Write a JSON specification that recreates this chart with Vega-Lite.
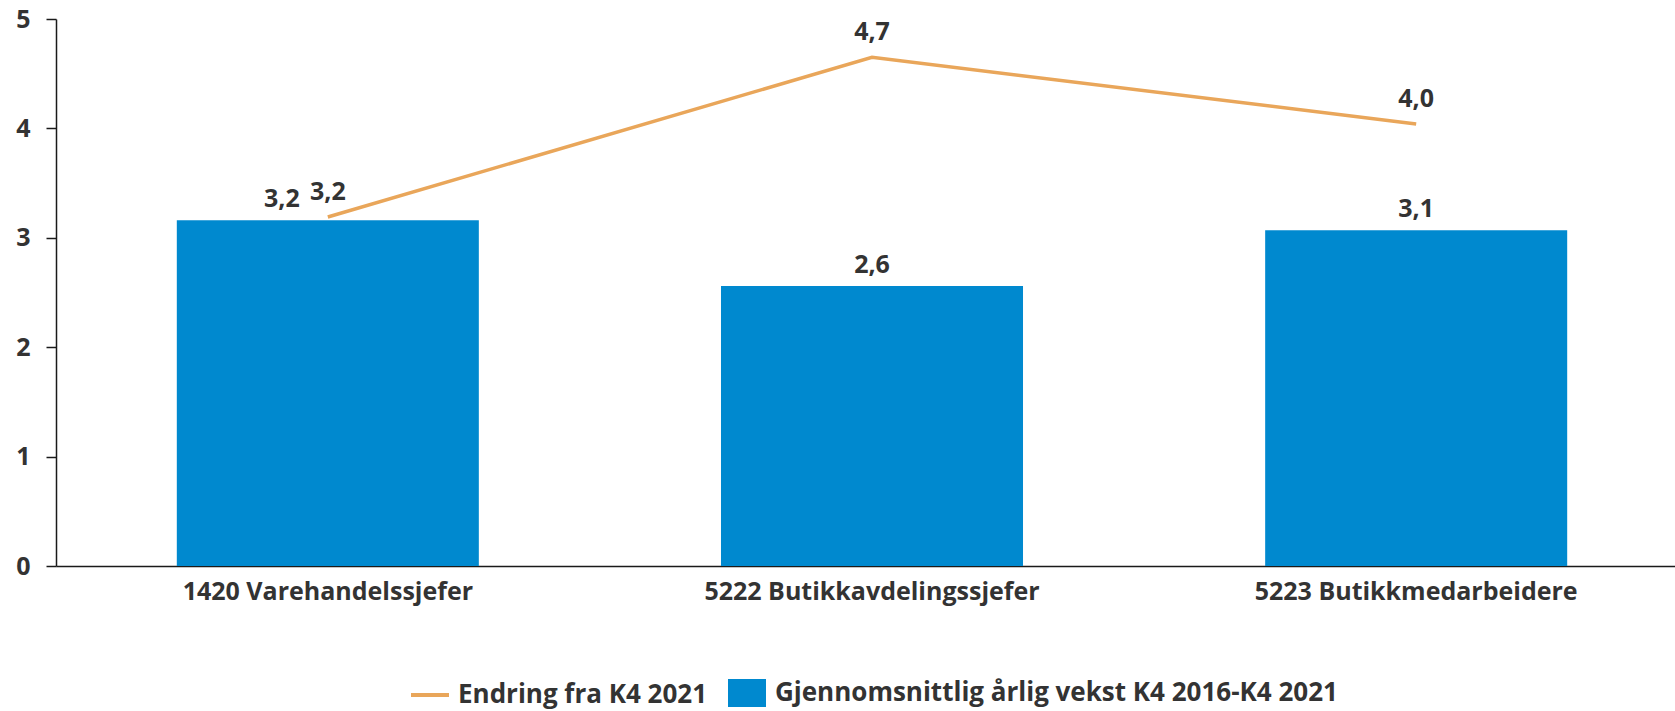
{
  "$schema": "https://vega.github.io/schema/vega-lite/v6.json",
  "autosize": {"type": "none"},
  "width": 1619,
  "height": 547,
  "padding": {"left": 56, "top": 19, "right": 0, "bottom": 145},
  "background": "white",
  "config": {
    "font": "Open Sans",
    "view": {"stroke": null},
    "locale": {"number": {"decimal": ",", "thousands": " ", "grouping": [3], "currency": ["", " kr"]}},
    "axis": {"labelFont": "Open Sans", "labelFontWeight": "bold", "labelFontSize": 25, "labelColor": "#333333", "labelLimit": 0, "domainColor": "#1a1a1a", "tickColor": "#1a1a1a", "domainWidth": 1.5, "tickWidth": 1.5, "grid": false, "title": null},
    "legend": {"labelFont": "Open Sans", "labelFontWeight": "bold", "labelFontSize": 26, "labelColor": "#333333", "labelLimit": 0, "title": null, "padding": 0}
  },
  "data": {"values": [
    {"kategori": "1420 Varehandelssjefer", "vekst": 3.16, "endring": 3.19},
    {"kategori": "5222 Butikkavdelingssjefer", "vekst": 2.56, "endring": 4.65},
    {"kategori": "5223 Butikkmedarbeidere", "vekst": 3.07, "endring": 4.04}
  ]},
  "encoding": {
    "x": {"field": "kategori", "type": "nominal", "sort": null,
      "scale": {"range": [0, 1632], "paddingInner": 0.445, "paddingOuter": 0.222},
      "axis": {"labelAngle": 0, "ticks": false, "labelPadding": 13}}
  },
  "layer": [
    {
      "mark": {"type": "bar", "color": "#0089cf"},
      "encoding": {
        "y": {"field": "vekst", "type": "quantitative", "scale": {"domain": [0, 5], "nice": false},
          "axis": {"values": [0, 1, 2, 3, 4, 5], "tickSize": 10, "labelPadding": 16, "format": "d"}},
        "fill": {"datum": "Gjennomsnittlig årlig vekst K4 2016-K4 2021", "type": "nominal",
          "scale": {"range": ["#0089cf"]},
          "legend": {"orient": "none", "legendX": 672, "legendY": 655, "symbolType": "M-1,-0.737L1,-0.737L1,0.737L-1,0.737Z", "symbolSize": 1444, "symbolStrokeWidth": 0, "labelOffset": 9}}
      }
    },
    {
      "mark": {"type": "line", "strokeWidth": 3.5},
      "encoding": {
        "y": {"field": "endring", "type": "quantitative"},
        "stroke": {"datum": "Endring fra K4 2021", "type": "nominal",
          "scale": {"range": ["#e9a65a"]},
          "legend": {"orient": "none", "legendX": 353, "legendY": 655, "symbolType": "stroke", "symbolSize": 1444, "symbolStrokeWidth": 4, "labelOffset": 7}}
      }
    },
    {
      "transform": [{"filter": "datum.kategori === '1420 Varehandelssjefer'"}],
      "mark": {"type": "text", "baseline": "alphabetic", "dy": -13, "dx": -46, "fontWeight": "bold", "fontSize": 25, "color": "#333333"},
      "encoding": {"y": {"field": "vekst", "type": "quantitative"}, "text": {"field": "vekst", "type": "quantitative", "format": ".1f"}}
    },
    {
      "transform": [{"filter": "datum.kategori !== '1420 Varehandelssjefer'"}],
      "mark": {"type": "text", "baseline": "alphabetic", "dy": -13, "fontWeight": "bold", "fontSize": 25, "color": "#333333"},
      "encoding": {"y": {"field": "vekst", "type": "quantitative"}, "text": {"field": "vekst", "type": "quantitative", "format": ".1f"}}
    },
    {
      "mark": {"type": "text", "baseline": "alphabetic", "dy": -17, "fontWeight": "bold", "fontSize": 25, "color": "#333333"},
      "encoding": {"y": {"field": "endring", "type": "quantitative"}, "text": {"field": "endring", "type": "quantitative", "format": ".1f"}}
    }
  ]
}
